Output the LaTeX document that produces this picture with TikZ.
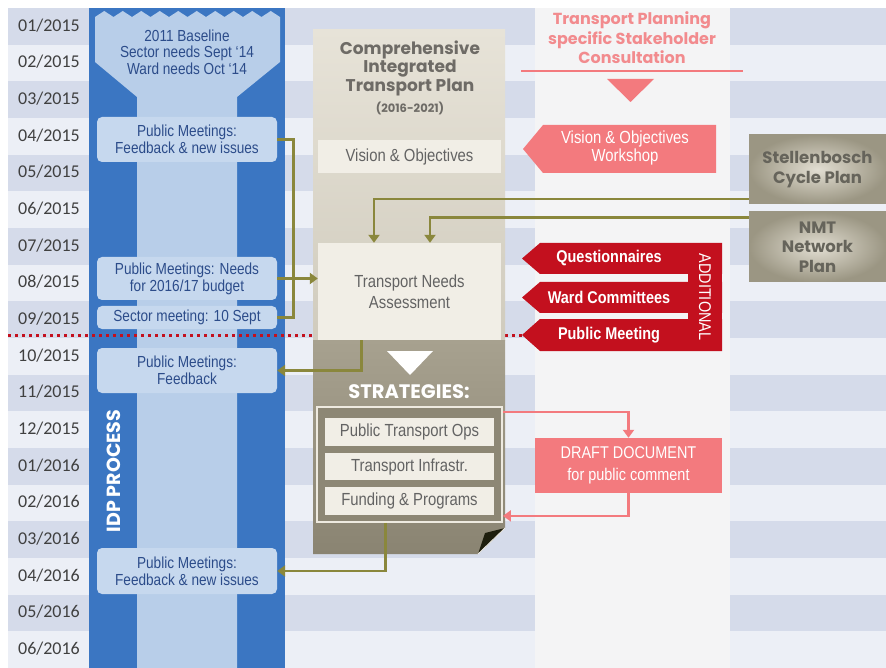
\documentclass[tikz,border=0pt]{standalone}
\usepackage{fontspec}
\setmainfont{Liberation Sans}
\newfontfamily\cond[FakeStretch=0.85]{Liberation Sans}
\newfontfamily\geo{Poppins}
\newfontfamily\calfont{Carlito}
\usetikzlibrary{arrows.meta}
\definecolor{stripeD}{HTML}{D5DBEA}
\definecolor{stripeL}{HTML}{ECEFF6}
\definecolor{colwhite}{HTML}{F4F4F5}
\definecolor{idpdark}{HTML}{3B76C2}
\definecolor{idplight}{HTML}{B8CEE9}
\definecolor{idpbox}{HTML}{C6D8EE}
\definecolor{idptext}{HTML}{2C4C8A}
\definecolor{olivec}{HTML}{8A873C}
\definecolor{pinkc}{HTML}{F37A7E}
\definecolor{pinktext}{HTML}{F28B8E}
\definecolor{redc}{HTML}{C3101E}
\definecolor{beigeT}{HTML}{E7E3D8}
\definecolor{beigeM}{HTML}{D0CBBD}
\definecolor{beigeD1}{HTML}{A7A18F}
\definecolor{beigeD2}{HTML}{8A8472}
\definecolor{greytext}{HTML}{636363}
\definecolor{citp}{HTML}{6E6B66}
\definecolor{boxlight}{HTML}{F1EEE6}
\definecolor{framec}{HTML}{8D8775}
\definecolor{frameline}{HTML}{EEEAE0}
\definecolor{metalL}{HTML}{E2DED2}
\definecolor{metalD}{HTML}{9B9683}
\definecolor{metaltext}{HTML}{66645B}
\definecolor{datec}{HTML}{404040}
\tikzset{
  datef/.style={font=\calfont\fontsize{18}{20}\selectfont, text=datec, inner sep=0pt},
  idpb/.style={fill=idpbox, rounded corners=5pt, minimum width=180pt, inner sep=0pt,
    font=\cond\fontsize{16}{17}\selectfont, text=idptext, align=center},
  beigebox/.style={fill=boxlight, minimum width=183pt, inner sep=0pt,
    font=\cond\fontsize{17.5}{21}\selectfont, text=greytext, align=center},
  stratbox/.style={fill=boxlight, minimum width=169pt, inner sep=0pt,
    font=\cond\fontsize{17.5}{20}\selectfont, text=greytext},
  metal/.style={shade, inner color=metalL, outer color=metalD, minimum width=137pt,
    inner sep=0pt, font=\geo\bfseries\fontsize{16.5}{19.5}\selectfont, text=metaltext, align=center},
  redtext/.style={font=\cond\bfseries\fontsize{17}{19}\selectfont, text=white, inner sep=0pt},
  oline/.style={draw=olivec, line width=2.6pt},
  oarrow/.style={oline, -{Triangle[length=8pt,width=11pt]}},
  parrow/.style={draw=pinkc, line width=2.6pt, -{Triangle[length=8pt,width=11pt]}}
}
\begin{document}
\begin{tikzpicture}[x=1pt,y=-1pt]
\useasboundingbox (0,0) rectangle (886,668);
\fill[white] (0,0) rectangle (886,668);
% stripes
\foreach \i in {0,...,17} {
  \pgfmathsetmacro{\ya}{8+36.67*\i}
  \pgfmathsetmacro{\yb}{8+36.67*(\i+1)}
  \ifodd\i \def\sc{stripeL}\else\def\sc{stripeD}\fi
  \fill[\sc] (8,\ya) rectangle (886,\yb);
}
\foreach \d [count=\k from 0] in {01/2015,02/2015,03/2015,04/2015,05/2015,06/2015,07/2015,08/2015,09/2015,10/2015,11/2015,12/2015,01/2016,02/2016,03/2016,04/2016,05/2016,06/2016}
  \node[datef] (d\k) at (49,{8+36.67*(\k+0.5)-1}) {\d};
% white consultation column
\fill[colwhite] (535,8) rectangle (730,668);
% IDP column
\fill[idpdark] (89,8) rectangle (285,668);
\fill[idplight] (95,62) -- (95,17)
  \foreach \k in {0,...,9} { -- ({95+18.5*\k+9.25},11) -- ({95+18.5*(\k+1)},17) }
  -- (280,62) -- (237,97) -- (237,668) -- (137,668) -- (137,97) -- cycle;
\node[font=\cond\fontsize{16}{16.5}\selectfont, text=idptext, align=center] (base) at (187,52)
  {2011 Baseline\\Sector needs Sept ‘14\\Ward needs Oct ‘14};
\node[idpb, minimum height=45pt] (pm1) at (187,139.5) {Public Meetings:\\Feedback \& new issues};
\node[idpb, minimum height=43pt] (pm2) at (187,278.5) {Public Meetings: Needs\\for 2016/17 budget};
\node[idpb, minimum height=23pt] (sm) at (187,317.5) {Sector meeting: 10 Sept};
\node[idpb, minimum height=45pt] (pm3) at (187,370.5) {Public Meetings:\\Feedback};
\node[idpb, minimum height=46pt] (pm4) at (187,571) {Public Meetings:\\Feedback \& new issues};
\node[rotate=90, font=\geo\bfseries\fontsize{19}{21}\selectfont, text=white, inner sep=0pt] (idp) at (114,471) {IDP PROCESS};
% dotted divider
\draw[redc, line width=3pt, dash pattern=on 3pt off 4pt] (8,335) -- (522,335);
% CITP column
\shade[top color=beigeT, bottom color=beigeM] (313,30) rectangle (505,340);
\shade[top color=beigeD1, bottom color=beigeD2] (313,340) -- (505,340) -- (505,528) -- (478,554) -- (313,554) -- cycle;
\fill[black!78!olivec] (478,554) -- (485,533) -- (505,528) -- cycle;
\draw[frameline, line width=0.8pt] (478,554) -- (505,528);
\node[font=\geo\bfseries\fontsize{17}{18.5}\selectfont, text=citp, align=center] (title) at (410,68)
  {Comprehensive\\Integrated\\Transport Plan};
\node[font=\geo\bfseries\fontsize{11.5}{12}\selectfont, text=citp] (years) at (410,108) {(2016-2021)};
\node[beigebox, minimum height=33pt] (vis) at (409.5,156.5) {Vision \& Objectives};
\node[beigebox, minimum height=97pt] (tna) at (409.5,291.5) {Transport Needs\\Assessment};
\fill[white] (387,351) -- (433,351) -- (410,375) -- cycle;
\node[font=\geo\bfseries\fontsize{19.5}{21}\selectfont, text=white] (strat) at (409,392) {STRATEGIES:};
\node[draw=frameline, line width=1.8pt, fill=framec, minimum width=185pt, minimum height=115pt, inner sep=0pt] (frame) at (409.5,464.5) {};
\node[stratbox, minimum height=28pt] (s1) at (409.5,432) {Public Transport Ops};
\node[stratbox, minimum height=27pt] (s2) at (409.5,466.5) {Transport Infrastr.};
\node[stratbox, minimum height=28pt] (s3) at (409.5,501) {Funding \& Programs};
% consultation column
\node[font=\geo\bfseries\fontsize{16}{19.5}\selectfont, text=pinktext, align=center] (tpc) at (632,38)
  {Transport Planning\\specific Stakeholder\\Consultation};
\draw[pinkc, line width=2.5pt] (521,71) -- (743,71);
\fill[pinkc] (607,79) -- (654,79) -- (630.5,102) -- cycle;
\fill[pinkc] (523,149) -- (543,125) -- (716,125) -- (716,173) -- (543,173) -- cycle;
\node[font=\cond\fontsize{17.5}{18}\selectfont, text=white, align=center] (vow) at (625,148) {Vision \& Objectives\\Workshop};
% additional red arrows
\fill[redc] (522,258.5) -- (540,243) -- (722,243) -- (722,274) -- (540,274) -- cycle;
\fill[redc] (522,297.5) -- (540,282) -- (722,282) -- (722,313) -- (540,313) -- cycle;
\fill[redc] (522,335) -- (540,319) -- (722,319) -- (722,351) -- (540,351) -- cycle;
\fill[redc] (688,243) rectangle (722,351);
\node[redtext] (q) at (609,258.5) {Questionnaires};
\node[redtext] (wc) at (609,297.5) {Ward Committees};
\node[redtext] (pmr) at (609,335) {Public Meeting};
\node[rotate=-90, font=\cond\fontsize{17}{19}\selectfont, text=white, inner sep=0pt] (add) at (705,297) {ADDITIONAL};
\node[fill=pinkc, minimum width=187pt, minimum height=55pt, inner sep=0pt, align=center,
  font=\cond\fontsize{17}{22}\selectfont, text=white] (draft) at (628.5,465.5) {DRAFT DOCUMENT\\for public comment};
% plans
\node[metal, minimum height=69pt] (scp) at (817.5,169.5) {Stellenbosch\\Cycle Plan};
\node[metal, minimum height=70pt] (nmt) at (817.5,247) {NMT\\Network\\Plan};
% connectors
\draw[oline] (pm1.east) -- ++(16,0) |- (sm.east);
\draw[oarrow] (pm2.east) -- (pm2.east -| tna.west);
\draw[oarrow] ([yshift=5pt]scp.south west) -| ([xshift=-35.5pt]tna.north);
\draw[oarrow] ([yshift=-6pt]nmt.north west) -| ([xshift=20.5pt]tna.north);
\draw[oarrow] ([xshift=-48pt]tna.south) |- (pm3.east);
\draw[oarrow] ([xshift=-24pt]frame.south) |- (pm4.east);
\draw[parrow] ([yshift=-6pt]frame.north east) -| (draft.north);
\draw[parrow] (draft.south) |- ([yshift=7pt]frame.south east);
\end{tikzpicture}
\end{document}
